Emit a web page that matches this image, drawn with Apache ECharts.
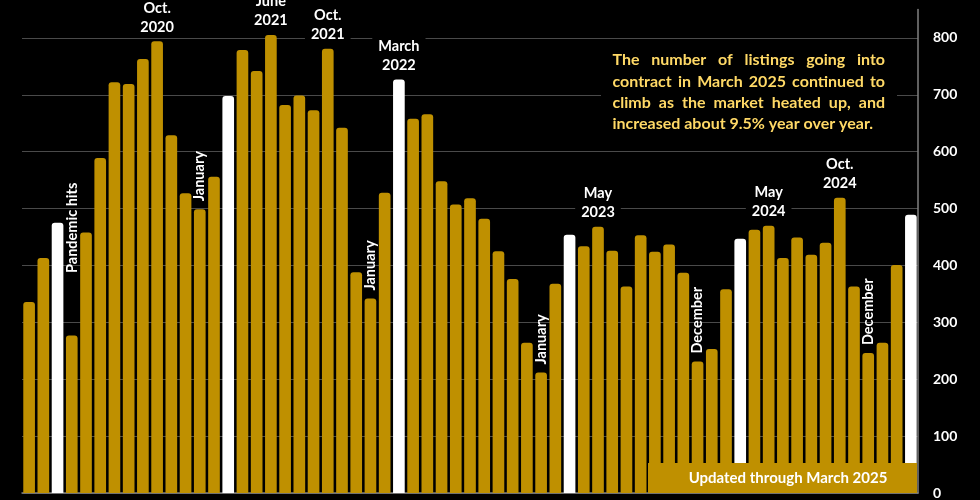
<!DOCTYPE html>
<html lang="en">
<head>
<meta charset="UTF-8">
<title>Listings going into contract</title>
<style>
  html, body { margin: 0; padding: 0; background: #000; }
  #main { width: 980px; height: 500px; }
</style>
</head>
<body>
<div id="main"></div>
<script src="https://cdn.jsdelivr.net/npm/echarts@6/dist/echarts.min.js"></script>
<script>
// monthly listings going into contract, Jan 2020 - Mar 2025
var months = [
  'Jan 2020','Feb 2020','Mar 2020','Apr 2020','May 2020','Jun 2020','Jul 2020','Aug 2020','Sep 2020','Oct 2020','Nov 2020','Dec 2020',
  'Jan 2021','Feb 2021','Mar 2021','Apr 2021','May 2021','Jun 2021','Jul 2021','Aug 2021','Sep 2021','Oct 2021','Nov 2021','Dec 2021',
  'Jan 2022','Feb 2022','Mar 2022','Apr 2022','May 2022','Jun 2022','Jul 2022','Aug 2022','Sep 2022','Oct 2022','Nov 2022','Dec 2022',
  'Jan 2023','Feb 2023','Mar 2023','Apr 2023','May 2023','Jun 2023','Jul 2023','Aug 2023','Sep 2023','Oct 2023','Nov 2023','Dec 2023',
  'Jan 2024','Feb 2024','Mar 2024','Apr 2024','May 2024','Jun 2024','Jul 2024','Aug 2024','Sep 2024','Oct 2024','Nov 2024','Dec 2024',
  'Jan 2025','Feb 2025','Mar 2025'
];
var listings = [
  336, 413, 475, 277, 458, 589, 722, 719, 763, 794, 629, 527,
  499, 556, 698, 779, 742, 805, 682, 699, 673, 781, 642, 388,
  342, 528, 727, 658, 666, 548, 507, 518, 482, 425, 376, 264,
  212, 368, 454, 434, 468, 426, 363, 453, 424, 437, 387, 231,
  253, 358, 447, 463, 470, 413, 449, 419, 440, 519, 363, 246,
  264, 401, 489
];
var whiteMonths = ['Mar 2020', 'Mar 2021', 'Mar 2022', 'Mar 2023', 'Mar 2024', 'Mar 2025'];
var topLabels = {
  'Oct 2020': 'Oct.\n2020', 'Jun 2021': 'June\n2021', 'Oct 2021': 'Oct.\n2021',
  'Mar 2022': 'March\n2022', 'May 2023': 'May\n2023', 'May 2024': 'May\n2024', 'Oct 2024': 'Oct.\n2024'
};
var sideLabels = {
  'Jan 2021': 'January', 'Jan 2022': 'January', 'Jan 2023': 'January',
  'Dec 2023': 'December', 'Dec 2024': 'December'
};
var pandemicMonth = 'Mar 2020';
var noteLines = [
  'The number of listings going into',
  'contract in March 2025 continued to',
  'climb as the market heated up, and',
  'increased about 9.5% year over year.'
];
var updatedText = 'Updated through March 2025';
var yMax = 850, yStep = 100, yTopLabel = 800;

var gold = '#BF9000';
var noteGold = '#FFD966';
var fontFamily = 'Lato, "Open Sans", sans-serif';

function barLabel(m) {
  var base = { show: true, color: '#fff', fontWeight: 'bold', fontFamily: fontFamily, fontSize: 14.5 };
  if (topLabels[m]) {
    return Object.assign(base, {
      position: 'top', distance: 4, formatter: topLabels[m], lineHeight: 19,
      align: 'center', backgroundColor: '#000', padding: [1, 6]
    });
  }
  if (sideLabels[m]) {
    return Object.assign(base, {
      position: 'top', distance: 8, rotate: 90, align: 'left', verticalAlign: 'middle',
      formatter: sideLabels[m]
    });
  }
  if (m === pandemicMonth) {
    return Object.assign(base, {
      position: [21, 5], rotate: 90, align: 'center', verticalAlign: 'middle',
      formatter: 'Pandemic hits'
    });
  }
  return { show: false };
}

var barData = listings.map(function (v, i) {
  var m = months[i];
  return {
    value: v,
    itemStyle: { color: whiteMonths.indexOf(m) >= 0 ? '#FFFFFF' : gold },
    label: barLabel(m)
  };
});

// justified note text, drawn word by word
var noteLeft = 612.5, noteWidth = 272.5, noteTop = 60, noteLineH = 21.4;
var noteFont = 'bold 16px ' + fontFamily;
var ctx = document.createElement('canvas').getContext('2d');
ctx.font = noteFont;
var noteEls = [];
noteLines.forEach(function (line, li) {
  var y = noteTop + li * noteLineH;
  var words = line.split(' ');
  var last = li === noteLines.length - 1;
  var total = 0;
  words.forEach(function (w) { total += ctx.measureText(w).width; });
  var gap = last ? ctx.measureText(' ').width : Math.max(ctx.measureText(' ').width * 0.6, (noteWidth - total) / (words.length - 1));
  var x = noteLeft;
  words.forEach(function (w) {
    noteEls.push({
      type: 'text', x: x, y: y, z: 60,
      style: { text: w, fill: noteGold, font: noteFont, verticalAlign: 'middle', align: 'left' }
    });
    x += ctx.measureText(w).width + gap;
  });
});

var gridColors = [];
for (var t = 0; t <= yTopLabel; t += yStep) gridColors.push('#4a4a4a');
gridColors.push('rgba(0,0,0,0)');

var myChart = echarts.init(document.getElementById('main'));
myChart.setOption({
  backgroundColor: '#000',
  animation: false,
  textStyle: { fontFamily: fontFamily },
  grid: { left: 22, right: 62, top: 9.5, bottom: 6 },
  xAxis: {
    type: 'category',
    data: months,
    axisLine: { lineStyle: { color: '#808080', width: 1.5 } },
    axisTick: { show: false },
    axisLabel: { show: false }
  },
  yAxis: {
    type: 'value',
    position: 'right',
    min: 0,
    max: yMax,
    interval: yStep,
    axisLine: { show: true, lineStyle: { color: '#808080', width: 1.5 } },
    axisTick: { show: false },
    axisLabel: {
      color: '#fff', fontWeight: 'bold', fontSize: 14, margin: 15,
      formatter: function (v) { return v > yTopLabel ? '' : String(v); }
    },
    splitLine: { lineStyle: { color: gridColors, width: 1 } }
  },
  series: [{
    type: 'bar',
    data: barData,
    barCategoryGap: '18%',
    itemStyle: { borderRadius: [3, 3, 0, 0] },
    labelLayout: { hideOverlap: false }
  }],
  graphic: [
    { type: 'rect', z: 50, shape: { x: 601, y: 45, width: 296, height: 92 }, style: { fill: '#000' } }
  ].concat(noteEls).concat([
    { type: 'rect', z: 70, shape: { x: 648, y: 463, width: 269, height: 30 }, style: { fill: gold } },
    {
      type: 'text', z: 71, x: 788, y: 478,
      style: { text: updatedText, fill: '#fff', font: 'bold 15px ' + fontFamily, align: 'center', verticalAlign: 'middle' }
    }
  ])
});
</script>
</body>
</html>
